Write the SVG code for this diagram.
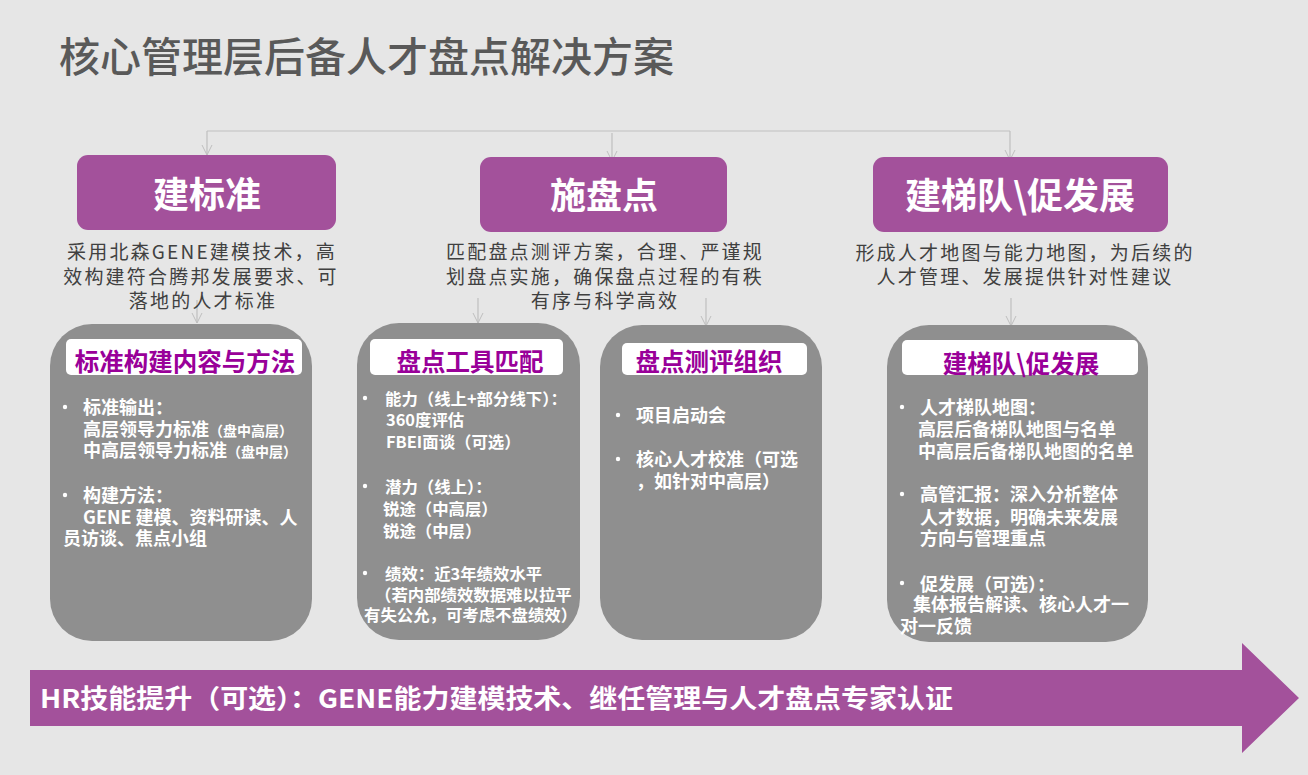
<svg xmlns="http://www.w3.org/2000/svg" width="1308" height="775" viewBox="0 0 1308 775">
<defs>
<style>
text{font-family:"Noto Sans CJK SC","Noto Sans",sans-serif;}
.title{font-size:41px;font-weight:500;fill:#595959;}
.hdr{fill:#A3519B;}
.hdrt{font-size:36px;font-weight:bold;fill:#ffffff;text-anchor:middle;}
.desc{font-size:19px;fill:#404040;letter-spacing:2.2px;text-anchor:middle;}
.card{fill:#8f8f8f;}
.lab{fill:#ffffff;}
.labt{font-size:24.5px;font-weight:bold;fill:#990099;text-anchor:middle;}
.body{font-size:18px;font-weight:bold;fill:#ffffff;}
.bodyb{font-size:16.4px;font-weight:bold;fill:#ffffff;}
.sm{font-size:14px;}
.dot{fill:#ffffff;}
.conn{fill:none;stroke:#bfbfbf;stroke-width:1.2;}
.band{fill:#A3519B;}
.bandt{font-size:26px;font-weight:bold;fill:#ffffff;}
</style>
<marker id="arr" markerUnits="userSpaceOnUse" markerWidth="12" markerHeight="12" viewBox="-1 -1 12 12" refX="10" refY="5" orient="auto">
<path d="M0,0 L10,5 L0,10" fill="none" stroke="#bfbfbf" stroke-width="1"/>
</marker>
</defs>
<rect x="0" y="0" width="1308" height="775" fill="#e6e6e6"/>
<text class="title" x="59" y="72">核心管理层后备人才盘点解决方案</text>

<g id="connectors">
<path class="conn" d="M207,131 H1010"/>
<path class="conn" d="M207,131 V155" marker-end="url(#arr)"/>
<path class="conn" d="M612,133 V161" marker-end="url(#arr)"/>
<path class="conn" d="M1010,131 V160" marker-end="url(#arr)"/>
<path class="conn" d="M197,300 V323" marker-end="url(#arr)"/>
<path class="conn" d="M478,298 V323" marker-end="url(#arr)"/>
<path class="conn" d="M706,298 V326" marker-end="url(#arr)"/>
<path class="conn" d="M1011,298 V326" marker-end="url(#arr)"/>
</g>

<g id="node-jianbiaozhun">
<rect class="hdr" x="77" y="155" width="259" height="75" rx="11"/>
<text class="hdrt" x="207" y="208">建标准</text>
<text class="desc"><tspan x="202" y="259">采用北森GENE建模技术，高</tspan><tspan x="201" y="283.5">效构建符合腾邦发展要求、可</tspan><tspan x="203" y="308">落地的人才标准</tspan></text>
</g>

<g id="node-shipandian">
<rect class="hdr" x="480" y="157" width="247" height="75" rx="11"/>
<text class="hdrt" x="604" y="209">施盘点</text>
<text class="desc"><tspan x="605" y="259">匹配盘点测评方案，合理、严谨规</tspan><tspan x="605" y="283.5">划盘点实施，确保盘点过程的有秩</tspan><tspan x="605" y="308">有序与科学高效</tspan></text>
</g>

<g id="node-jiantidui">
<rect class="hdr" x="873" y="157" width="295" height="75" rx="11"/>
<text class="hdrt" x="1020" y="209">建梯队\促发展</text>
<text class="desc"><tspan x="1025" y="260">形成人才地图与能力地图，为后续的</tspan><tspan x="1025" y="284">人才管理、发展提供针对性建议</tspan></text>
</g>

<g id="card-standard">
<rect class="card" x="50" y="324" width="262" height="317" rx="42"/>
<rect class="lab" x="66" y="339" width="236" height="36" rx="5"/>
<text class="labt" x="185" y="371">标准构建内容与方法</text>
<circle class="dot" cx="65" cy="407" r="2.2"/>
<circle class="dot" cx="65" cy="495" r="2.2"/>
<text class="body"><tspan x="83" y="414">标准输出：</tspan><tspan x="83" y="435.5">高层领导力标准</tspan><tspan class="sm">（盘中高层）</tspan><tspan x="83" y="457">中高层领导力标准</tspan><tspan class="sm">（盘中层）</tspan><tspan x="83" y="502">构建方法：</tspan><tspan x="83" y="524">GENE 建模、资料研读、人</tspan><tspan x="63" y="545">员访谈、焦点小组</tspan></text>
</g>

<g id="card-tools">
<rect class="card" x="357" y="323" width="223" height="317" rx="42"/>
<rect class="lab" x="370" y="339" width="193" height="36" rx="5"/>
<text class="labt" x="470" y="371">盘点工具匹配</text>
<circle class="dot" cx="365" cy="398" r="2.2"/>
<circle class="dot" cx="365" cy="486" r="2.2"/>
<circle class="dot" cx="365" cy="573" r="2.2"/>
<text class="bodyb"><tspan x="385" y="404.5">能力（线上+部分线下）：</tspan><tspan x="386" y="426">360度评估</tspan><tspan x="386" y="448">FBEI面谈（可选）</tspan><tspan x="385" y="492.5">潜力（线上）：</tspan><tspan x="383" y="515">锐途（中高层）</tspan><tspan x="383" y="537">锐途（中层）</tspan><tspan x="385" y="579.5">绩效：近3年绩效水平</tspan><tspan x="375" y="600.5">（若内部绩效数据难以拉平</tspan><tspan x="364" y="620.5">有失公允，可考虑不盘绩效）</tspan></text>
</g>

<g id="card-organize">
<rect class="card" x="600" y="325" width="222" height="315" rx="42"/>
<rect class="lab" x="622" y="343" width="185" height="32" rx="5"/>
<text class="labt" x="709" y="371">盘点测评组织</text>
<circle class="dot" cx="618" cy="415" r="2.2"/>
<circle class="dot" cx="618" cy="459" r="2.2"/>
<text class="body"><tspan x="636" y="421.8">项目启动会</tspan><tspan x="636" y="466">核心人才校准（可选</tspan><tspan x="636" y="487.5">，如针对中高层）</tspan></text>
</g>

<g id="card-ladder">
<rect class="card" x="887" y="325" width="261" height="317" rx="42"/>
<rect class="lab" x="902" y="340" width="236" height="35" rx="5"/>
<text class="labt" x="1021" y="372.5">建梯队\促发展</text>
<circle class="dot" cx="902" cy="407" r="2.2"/>
<circle class="dot" cx="902" cy="494" r="2.2"/>
<circle class="dot" cx="902" cy="583" r="2.2"/>
<text class="body"><tspan x="920" y="414">人才梯队地图：</tspan><tspan x="918" y="436">高层后备梯队地图与名单</tspan><tspan x="918" y="457.5">中高层后备梯队地图的名单</tspan><tspan x="920" y="501">高管汇报：深入分析整体</tspan><tspan x="920" y="523.5">人才数据，明确未来发展</tspan><tspan x="920" y="545">方向与管理重点</tspan><tspan x="920" y="590.5">促发展（可选）：</tspan><tspan x="913" y="611">集体报告解读、核心人才一</tspan><tspan x="900" y="632.5">对一反馈</tspan></text>
</g>

<g id="hr-band">
<polygon class="band" points="30,670 1242,670 1242,643 1299,698 1242,753 1242,726 30,726"/>
<text class="bandt" x="40" y="708" textLength="913" lengthAdjust="spacingAndGlyphs">HR技能提升（可选）：GENE能力建模技术、继任管理与人才盘点专家认证</text>
</g>
</svg>
